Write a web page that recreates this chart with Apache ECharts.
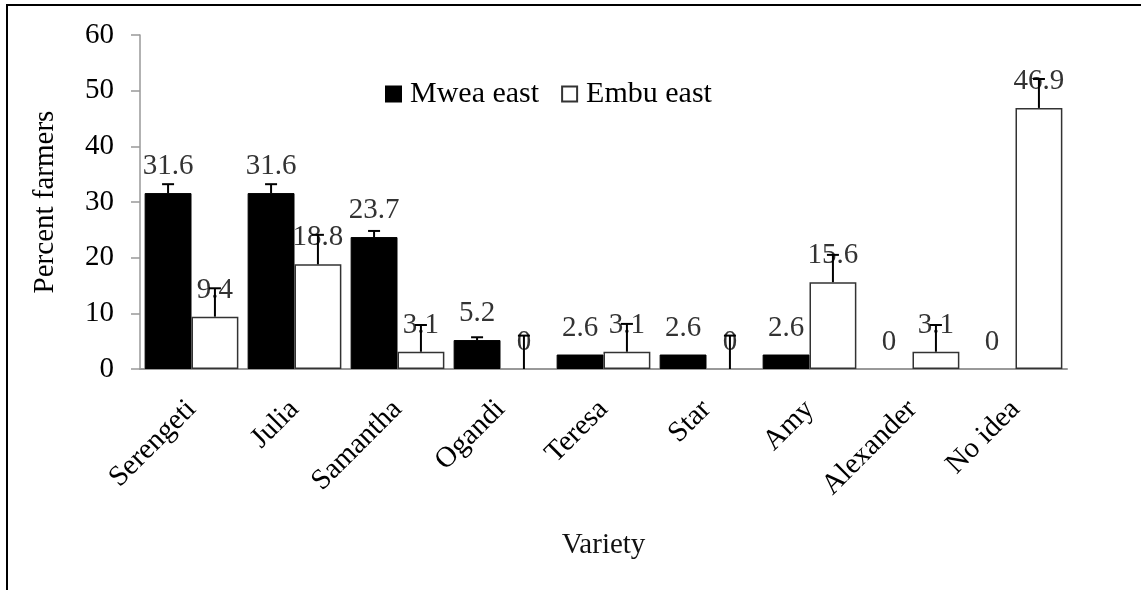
<!DOCTYPE html>
<html>
<head>
<meta charset="utf-8">
<script src="https://cdn.jsdelivr.net/npm/echarts@6/dist/echarts.min.js"></script>
<style>
  html, body { margin: 0; padding: 0; background: #fff; }
  #chart { width: 1141px; height: 590px; }
</style>
</head>
<body>
<div id="chart"></div>
<script>
// Varieties grown by farmers in the two divisions
const categories = ['Serengeti', 'Julia', 'Samantha', 'Ogandi', 'Teresa', 'Star', 'Amy', 'Alexander', 'No idea'];
const mweaEast = [31.6, 31.6, 23.7, 5.2, 2.6, 2.6, 2.6, 0, 0];
const embuEast = [9.4, 18.8, 3.1, 0, 3.1, 0, 15.6, 3.1, 46.9];
// Upper error bar lengths
const mweaErr = [1.6, 1.6, 1.1, 0.5, 0, 0, 0, 0, 0];
const embuErr = [5.1, 5.3, 4.8, 6.0, 5.0, 6.0, 4.9, 4.8, 5.2];
const yTicks = { min: 0, max: 60, interval: 10 };

const FONT = "'Liberation Serif', 'Times New Roman', serif";
const FS = 29;
const GAP = 0.09; // barCategoryGap as a fraction of the band

function errorBars(sign) {
  return function (params, api) {
    const idx = api.value(0), v = api.value(1), e = api.value(2);
    if (!e) return null;
    const band = api.size([1, 0])[0];
    const off = sign * band * (1 - GAP) / 4;
    const base = api.coord([idx, v]);
    const top = api.coord([idx, v + e]);
    const cx = base[0] + off;
    const st = { stroke: '#000', lineWidth: 2 };
    return {
      type: 'group',
      children: [
        { type: 'line', shape: { x1: cx, y1: base[1], x2: cx, y2: top[1] }, style: st },
        { type: 'line', shape: { x1: cx - 6, y1: top[1], x2: cx + 6, y2: top[1] }, style: st }
      ]
    };
  };
}

// zero-height bars get no outline so they don't darken the axis
const barData = arr => arr.map(v => (v === 0 ? { value: 0, itemStyle: { borderWidth: 0 } } : v));

const valueLabel = {
  show: true, position: 'top', distance: 12,
  fontFamily: FONT, fontSize: FS, color: '#333'
};

const chart = echarts.init(document.getElementById('chart'));
chart.setOption({
  backgroundColor: '#fff',
  animation: false,
  textStyle: { fontFamily: FONT },
  graphic: [{
    type: 'rect', shape: { x: 7, y: 5, width: 1200, height: 700 },
    style: { fill: 'none', stroke: '#000', lineWidth: 2 }, silent: true
  }],
  legend: {
    data: ['Mwea east', 'Embu east'],
    left: 380, top: 74,
    icon: 'rect', itemWidth: 15, itemHeight: 15, itemGap: 22,
    textStyle: { fontFamily: FONT, fontSize: 30, color: '#000', padding: [0, 0, 0, 4] }
  },
  grid: { left: 140, right: 74, top: 35, bottom: 221 },
  xAxis: {
    type: 'category', data: categories,
    name: 'Variety', nameLocation: 'middle', nameGap: 162,
    nameTextStyle: { fontFamily: FONT, fontSize: FS, color: '#111' },
    axisLine: { lineStyle: { color: '#999', width: 2 } },
    axisTick: { show: false },
    axisLabel: { rotate: 45, margin: 36, fontFamily: FONT, fontSize: FS, color: '#000', interval: 0 }
  },
  yAxis: {
    type: 'value', min: yTicks.min, max: yTicks.max, interval: yTicks.interval,
    name: 'Percent farmers', nameLocation: 'middle', nameGap: 80,
    nameTextStyle: { fontFamily: FONT, fontSize: FS, color: '#000' },
    axisLine: { show: true, lineStyle: { color: '#999', width: 1.5 } },
    axisTick: { show: true, length: 9, lineStyle: { color: '#999', width: 1.5 } },
    axisLabel: { margin: 26, fontFamily: FONT, fontSize: FS, color: '#000' },
    splitLine: { show: false }
  },
  series: [
    {
      name: 'Mwea east', type: 'bar', data: barData(mweaEast),
      barGap: '0%', barCategoryGap: (GAP * 100) + '%',
      itemStyle: { color: '#000', borderColor: '#000', borderWidth: 1 },
      label: valueLabel
    },
    {
      name: 'Embu east', type: 'bar', data: barData(embuEast),
      barGap: '0%', barCategoryGap: (GAP * 100) + '%',
      itemStyle: { color: '#fff', borderColor: '#333', borderWidth: 1.5 },
      label: valueLabel
    },
    {
      name: 'Mwea east error', type: 'custom', z: 5,
      renderItem: errorBars(-1),
      encode: { x: 0, y: 1 },
      data: mweaEast.map((v, i) => [i, v, mweaErr[i]])
    },
    {
      name: 'Embu east error', type: 'custom', z: 5,
      renderItem: errorBars(1),
      encode: { x: 0, y: 1 },
      data: embuEast.map((v, i) => [i, v, embuErr[i]])
    }
  ]
});
</script>
</body>
</html>
